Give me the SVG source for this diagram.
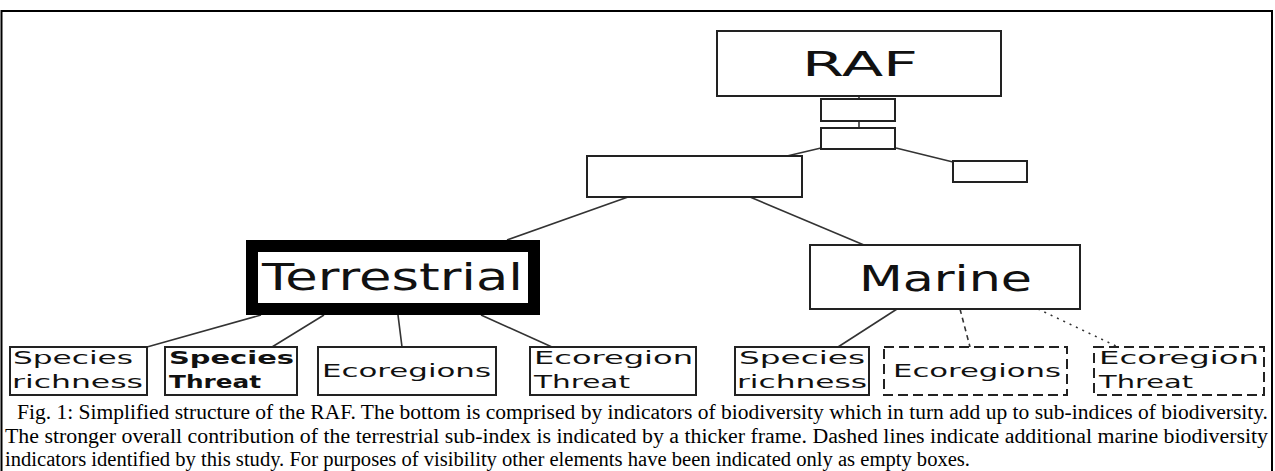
<svg xmlns="http://www.w3.org/2000/svg" width="1275" height="471" viewBox="0 0 1275 471">
<style>
.box{fill:#fff;stroke:#222;stroke-width:2}
.dash{fill:#fff;stroke:#222;stroke-width:2;stroke-dasharray:10 5}
.thick{fill:#fff;stroke:#000;stroke-width:12}
.lbl{font-family:"DejaVu Sans",Verdana,sans-serif;fill:#111}
.cap{font-family:"Liberation Serif","Times New Roman",serif;font-size:20px;fill:#000}
.conn line{stroke:#333;stroke-width:1.6}
</style>
<rect x="0" y="0" width="1275" height="471" fill="#fff"/>
<g id="frame" fill="none" stroke="#000" stroke-width="2">
<path d="M1.5 471 V11 H1272 V471"/>
</g>
<g class="conn" id="connectors">
<line x1="859" y1="96" x2="859" y2="99"/>
<line x1="859" y1="121" x2="859" y2="128"/>
<line x1="821" y1="148" x2="787" y2="156"/>
<line x1="896" y1="148" x2="953" y2="162"/>
<line x1="628" y1="197" x2="507" y2="240"/>
<line x1="750" y1="197" x2="864" y2="245"/>
<line x1="261" y1="315" x2="147" y2="347"/>
<line x1="324" y1="315" x2="272" y2="347"/>
<line x1="398" y1="315" x2="402" y2="347"/>
<line x1="481" y1="315" x2="552" y2="347"/>
<line x1="897" y1="309" x2="838" y2="347"/>
<line x1="960" y1="309" x2="970" y2="347" stroke-dasharray="5 4"/>
<line x1="1038" y1="309" x2="1118" y2="347" stroke-dasharray="2 5"/>
</g>
<g id="raf"><rect class="box" x="717" y="31" width="284" height="65"/><text class="lbl" x="802" y="76" font-size="33" textLength="116" lengthAdjust="spacingAndGlyphs">RAF</text></g>
<g id="empty1"><rect class="box" x="821" y="99" width="74" height="22"/></g>
<g id="empty2"><rect class="box" x="821" y="128" width="74" height="21"/></g>
<g id="empty3"><rect class="box" x="587" y="156" width="215" height="41"/></g>
<g id="empty4"><rect class="box" x="953" y="161" width="74" height="21"/></g>
<g id="terrestrial"><rect class="thick" x="252" y="246" width="282" height="63"/><text class="lbl" x="262" y="290" font-size="38" textLength="261" lengthAdjust="spacingAndGlyphs">Terrestrial</text></g>
<g id="marine"><rect class="box" x="810" y="245" width="270" height="64"/><text class="lbl" x="859" y="291" font-size="35" textLength="173" lengthAdjust="spacingAndGlyphs">Marine</text></g>
<g id="t-species-richness"><rect class="box" x="10" y="347" width="137" height="48" stroke-width="2.5"/><text class="lbl" font-size="17.5"><tspan x="13" y="364" textLength="120" lengthAdjust="spacingAndGlyphs">Species</tspan><tspan x="12" y="388" textLength="131" lengthAdjust="spacingAndGlyphs">richness</tspan></text></g>
<g id="t-species-threat"><rect class="box" x="165" y="347" width="132" height="48" stroke-width="2.5"/><text class="lbl" font-size="17.5" font-weight="bold"><tspan x="169" y="364" textLength="125" lengthAdjust="spacingAndGlyphs">Species</tspan><tspan x="169" y="388" textLength="92" lengthAdjust="spacingAndGlyphs">Threat</tspan></text></g>
<g id="t-ecoregions"><rect class="box" x="318" y="347" width="178" height="48"/><text class="lbl" x="322" y="377" font-size="17.5" textLength="169" lengthAdjust="spacingAndGlyphs">Ecoregions</text></g>
<g id="t-ecoregion-threat"><rect class="box" x="530" y="347" width="166" height="48"/><text class="lbl" font-size="17.5"><tspan x="534" y="364" textLength="159" lengthAdjust="spacingAndGlyphs">Ecoregion</tspan><tspan x="534" y="388" textLength="96" lengthAdjust="spacingAndGlyphs">Threat</tspan></text></g>
<g id="m-species-richness"><rect class="box" x="735" y="347" width="134" height="48"/><text class="lbl" font-size="17.5"><tspan x="739" y="364" textLength="126" lengthAdjust="spacingAndGlyphs">Species</tspan><tspan x="737" y="388" textLength="130" lengthAdjust="spacingAndGlyphs">richness</tspan></text></g>
<g id="m-ecoregions"><rect class="dash" x="884" y="347" width="183" height="48"/><text class="lbl" x="893" y="377" font-size="17.5" textLength="168" lengthAdjust="spacingAndGlyphs">Ecoregions</text></g>
<g id="m-ecoregion-threat"><rect class="dash" x="1094" y="347" width="170" height="48"/><text class="lbl" font-size="17.5"><tspan x="1099" y="364" textLength="160" lengthAdjust="spacingAndGlyphs">Ecoregion</tspan><tspan x="1099" y="388" textLength="94" lengthAdjust="spacingAndGlyphs">Threat</tspan></text></g>
<g id="caption" class="cap">
<text x="17" y="419" textLength="1251" lengthAdjust="spacingAndGlyphs">Fig. 1: Simplified structure of the RAF. The bottom is comprised by indicators of biodiversity which in turn add up to sub-indices of biodiversity.</text>
<text x="5" y="443" textLength="1263" lengthAdjust="spacingAndGlyphs">The stronger overall contribution of the terrestrial sub-index is indicated by a thicker frame. Dashed lines indicate additional marine biodiversity</text>
<text x="5" y="466" textLength="965" lengthAdjust="spacingAndGlyphs">indicators identified by this study. For purposes of visibility other elements have been indicated only as empty boxes.</text>
</g>
</svg>
